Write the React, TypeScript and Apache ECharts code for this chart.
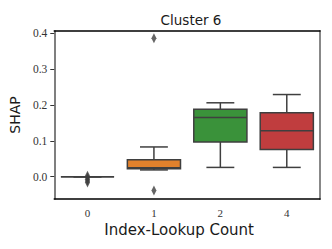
import React, { useEffect, useRef } from "react";
import * as echarts from "echarts";

const categories = ["0", "1", "2", "4"];
// [min whisker, Q1, median, Q3, max whisker]
const boxStats = [
  [0, 0, 0, 0, 0],
  [0.019, 0.022, 0.025, 0.047, 0.083],
  [0.026, 0.097, 0.165, 0.188, 0.206],
  [0.026, 0.076, 0.128, 0.178, 0.229],
];
const boxColors = ["#3274a1", "#e1812c", "#3a923a", "#c03d3e"];
const outliers: [string, number][] = [
  ["0", 0.003],
  ["0", -0.002],
  ["0", -0.007],
  ["0", -0.012],
  ["0", -0.016],
  ["1", 0.386],
  ["1", -0.038],
];
const yTicks = [0, 0.1, 0.2, 0.3, 0.4];
const yMin = -0.062;
const yMax = 0.406;

const LINE = "#3f3f3f";

export default function App() {
  const ref = useRef<HTMLDivElement>(null);
  useEffect(() => {
    document.body.style.margin = "0";
    if (!ref.current) return;
    const chart = echarts.init(ref.current, undefined, { renderer: "svg" });
    const boxData = boxStats.map((s, i) => [i, ...s]);
    chart.setOption({
      animation: false,
      backgroundColor: "#ffffff",
      title: {
        text: "Cluster 6",
        left: 186,
        textAlign: "center",
        top: 8,
        textStyle: {
          fontFamily: "DejaVu Sans",
          fontSize: 13.5,
          fontWeight: "normal",
          color: "#1a1a1a",
        },
      },
      grid: { left: 54, right: 12, top: 31, bottom: 50 },
      xAxis: [
        {
          type: "category",
          data: categories,
          boundaryGap: true,
          name: "Index-Lookup Count",
          nameLocation: "middle",
          nameGap: 21,
          nameTextStyle: {
            fontFamily: "DejaVu Sans",
            fontSize: 15,
            color: "#1a1a1a",
            padding: [0, 16, 0, 0],
          },
          axisLine: { onZero: false, lineStyle: { color: "#000", width: 1.5 } },
          axisTick: { alignWithLabel: true, length: 4, lineStyle: { color: "#333", width: 1 } },
          axisLabel: { fontFamily: "Liberation Serif, serif", fontSize: 11, color: "#333", margin: 8 },
          splitLine: { show: false },
        },
        {
          type: "category",
          data: categories,
          position: "top",
          axisLine: { show: true, onZero: false, lineStyle: { color: "#000", width: 1.5 } },
          axisTick: { show: false },
          axisLabel: { show: false },
        },
      ],
      yAxis: [
        {
          type: "value",
          min: yMin,
          max: yMax,
          name: "SHAP",
          nameLocation: "middle",
          nameGap: 30,
          nameTextStyle: { fontFamily: "DejaVu Sans", fontSize: 14, color: "#1a1a1a" },
          axisLine: { show: true, onZero: false, lineStyle: { color: "#555", width: 1.5 } },
          axisTick: { show: true, length: 4, customValues: yTicks, lineStyle: { color: "#333" } },
          axisLabel: {
            customValues: yTicks,
            formatter: (v: number) => v.toFixed(1),
            fontFamily: "Liberation Serif, serif",
            fontSize: 11.5,
            color: "#333",
            margin: 7,
          },
          splitLine: { show: false },
        },
        {
          type: "value",
          min: yMin,
          max: yMax,
          position: "right",
          axisLine: { show: true, onZero: false, lineStyle: { color: "#888", width: 2 } },
          axisTick: { show: false },
          axisLabel: { show: false },
          splitLine: { show: false },
        },
      ],
      series: [
        {
          type: "custom",
          xAxisIndex: 0,
          yAxisIndex: 0,
          data: boxData,
          renderItem: (params: any, api: any) => {
            const idx = api.value(0);
            const mn = api.value(1);
            const q1 = api.value(2);
            const med = api.value(3);
            const q3 = api.value(4);
            const mx = api.value(5);
            const band = api.size([1, 0])[0];
            const bw = band * 0.8;
            const cw = band * 0.42;
            const pMin = api.coord([idx, mn]);
            const pQ1 = api.coord([idx, q1]);
            const pMed = api.coord([idx, med]);
            const pQ3 = api.coord([idx, q3]);
            const pMax = api.coord([idx, mx]);
            const cx = pMin[0];
            const ls = { stroke: LINE, lineWidth: 1.5 };
            return {
              type: "group",
              children: [
                { type: "line", shape: { x1: cx, y1: pQ3[1], x2: cx, y2: pMax[1] }, style: ls },
                { type: "line", shape: { x1: cx, y1: pQ1[1], x2: cx, y2: pMin[1] }, style: ls },
                { type: "line", shape: { x1: cx - cw / 2, y1: pMax[1], x2: cx + cw / 2, y2: pMax[1] }, style: ls },
                { type: "line", shape: { x1: cx - cw / 2, y1: pMin[1], x2: cx + cw / 2, y2: pMin[1] }, style: ls },
                {
                  type: "rect",
                  shape: { x: cx - bw / 2, y: pQ3[1], width: bw, height: pQ1[1] - pQ3[1] },
                  style: { fill: boxColors[params.dataIndex], stroke: LINE, lineWidth: 1.5 },
                },
                { type: "line", shape: { x1: cx - bw / 2, y1: pMed[1], x2: cx + bw / 2, y2: pMed[1] }, style: ls },
              ],
            };
          },
        },
        {
          type: "scatter",
          xAxisIndex: 0,
          yAxisIndex: 0,
          data: outliers,
          symbol: "diamond",
          symbolSize: [5, 10],
          itemStyle: { color: LINE },
        },
      ],
    });
    return () => chart.dispose();
  }, []);
  return <div ref={ref} style={{ width: 332, height: 249 }} />;
}
